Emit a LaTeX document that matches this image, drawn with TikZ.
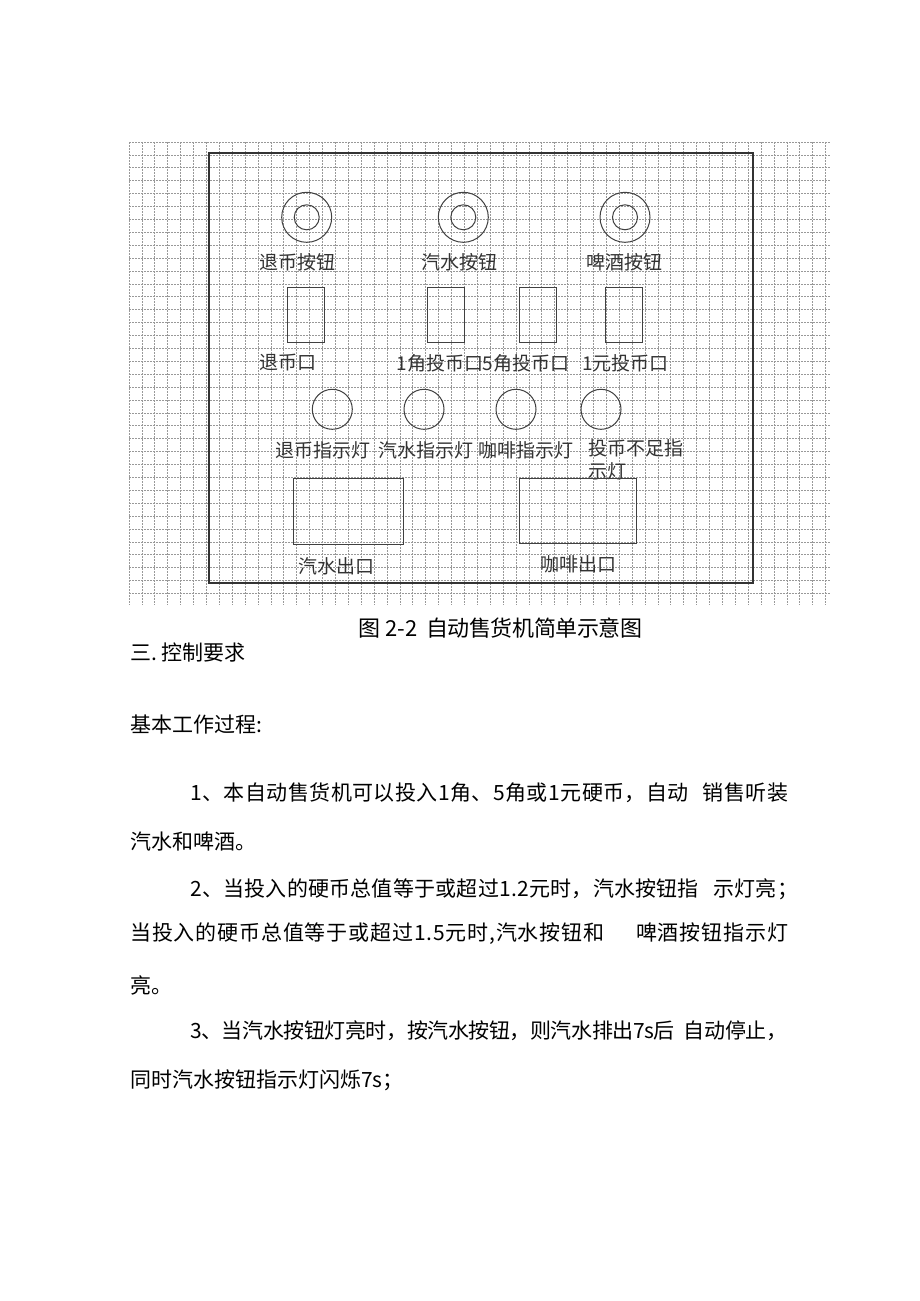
\documentclass[tikz,border=0pt]{standalone}
\usepackage{fontspec}
\newfontfamily\cjk{Noto Sans CJK SC}
% spread the characters of one line over a given width
\newcommand\spreadline[2]{\makebox[#1][s]{\spreadfirst#2\relax}}
\def\spreadfirst#1{#1\spreadloop}
\def\spreadloop#1{\ifx#1\relax\else\hskip 0pt plus 1fil minus 0.6pt#1\expandafter\spreadloop\fi}
\def\gapA{\hskip 13pt}
\def\gapB{\hskip 14pt}
\def\gapC{\hskip 30pt}
\def\gapD{\hskip 10pt}

\begin{document}
\begin{tikzpicture}[x=1pt, y=-1pt]
        \tikzset{
            panel/.style={draw=black!80, rectangle, line width=1.3pt, inner sep=0pt, minimum width=544pt, minimum height=430pt},
            part/.style={draw=black!75, line width=1pt, inner sep=0pt, outer sep=0pt},
            ring/.style={part, circle, minimum size=50pt},
            hub/.style={part, circle, minimum size=25pt},
            slot/.style={part, rectangle, minimum width=37pt, minimum height=55pt},
            lamp/.style={part, circle, minimum size=40pt},
            outlet/.style={part, rectangle},
            tag/.style={font=\cjk\fontsize{19}{22.7}\selectfont, text=black!80, inner sep=0pt},
            body/.style={font=\cjk\fontsize{21}{25}\selectfont, anchor=west, inner sep=0pt},
            gridline/.style={draw=black!40, line width=0.8pt, dash pattern=on 2pt off 1pt}
        }
        \fill[white] (0,0) rectangle (920,1301);
        \useasboundingbox (0,0) rectangle (920,1301);

        % Grid paper
        \foreach \i in {0,...,54}
            \draw[gridline] (129+\i*12.9, 142) -- (129+\i*12.9, 605);
        \foreach \j in {0,...,35}
            \draw[gridline] (129, 142+\j*12.9) -- (830, 142+\j*12.9);

        % Machine front
        \node [panel, fill=none] (frame) at (481, 368) {};

        % Buttons
        \node [ring] (retBtn) at (306.7, 217.3) {};
        \node [hub] (retHub) at (retBtn) {};
        \node [ring] (sodaBtn) at (463.3, 217.3) {};
        \node [hub] (sodaHub) at (sodaBtn) {};
        \node [ring] (beerBtn) at (625, 217.3) {};
        \node [hub] (beerHub) at (beerBtn) {};
        \node [tag] (retBtnLbl) at (297.7, 262) {退币按钮};
        \node [tag] (sodaBtnLbl) at (459.7, 262) {汽水按钮};
        \node [tag] (beerBtnLbl) at (624.7, 262) {啤酒按钮};

        % Coin slots
        \node [slot] (retSlot) at (305.5, 315.3) {};
        \node [slot] (jiaoSlot) at (446.3, 315.3) {};
        \node [slot] (fiveSlot) at (537.8, 315.3) {};
        \node [slot] (yuanSlot) at (624, 315.3) {};
        \node [tag] (retSlotLbl) at (288, 363) {退币口};
        \node [tag] (jiaoSlotLbl) at (440, 363) {1角投币口};
        \node [tag] (fiveSlotLbl) at (526, 363) {5角投币口};
        \node [tag] (yuanSlotLbl) at (625.5, 363) {1元投币口};

        % Indicator lamps
        \node [lamp] (retLamp) at (332.3, 409.3) {};
        \node [lamp] (sodaLamp) at (424, 409.3) {};
        \node [lamp] (coffeeLamp) at (516, 409.3) {};
        \node [lamp] (lowLamp) at (601, 409.3) {};
        \node [tag] (retLampLbl) at (323.3, 450) {退币指示灯};
        \node [tag] (sodaLampLbl) at (426.3, 450) {汽水指示灯};
        \node [tag] (coffeeLampLbl) at (526.3, 450) {咖啡指示灯};
        \node [tag, align=left, anchor=west] (lowLampLbl) at (588, 460) {投币不足指\\示灯};

        % Outlets
        \node [outlet, minimum width=110pt, minimum height=66pt] (sodaOut) at (348.3, 511.8) {};
        \node [outlet, minimum width=117pt, minimum height=65pt] (coffeeOut) at (578, 511) {};
        \node [tag] (sodaOutLbl) at (336, 566.7) {汽水出口};
        \node [tag] (coffeeOutLbl) at (578, 564.3) {咖啡出口};

        % Caption and text
        \node [body, font=\cjk\fontsize{22}{26}\selectfont] (caption) at (358, 628) {图\hspace{5pt}2-2\hspace{9pt}\spreadline{216pt}{自动售货机简单示意图}};
        \node [body] (sec) at (130, 653) {三.\hspace{4pt}控制要求};
        \node [body] (basic) at (130, 725) {基本工作过程:};
        \node [body] (ruleA) at (190, 793) {\spreadline{598pt}{1、本自动售货机可以投入1角、5角或1元硬币，自动\gapA 销售听装}};
        \node [body] (ruleAb) at (130, 842) {汽水和啤酒。};
        \node [body] (ruleB) at (190, 889) {\spreadline{608pt}{2、当投入的硬币总值等于或超过1.2元时，汽水按钮指\gapB 示灯亮；}};
        \node [body] (ruleBb) at (130, 934) {\spreadline{658pt}{当投入的硬币总值等于或超过1.5元时,汽水按钮和\gapC 啤酒按钮指示灯}};
        \node [body] (ruleBc) at (130, 985) {亮。};
        \node [body] (ruleC) at (190, 1031) {\spreadline{597pt}{3、当汽水按钮灯亮时，按汽水按钮，则汽水排出7s后\gapD 自动停止，}};
        \node [body] (ruleCb) at (130, 1080) {同时汽水按钮指示灯闪烁7s；};

    \end{tikzpicture}
\end{document}
